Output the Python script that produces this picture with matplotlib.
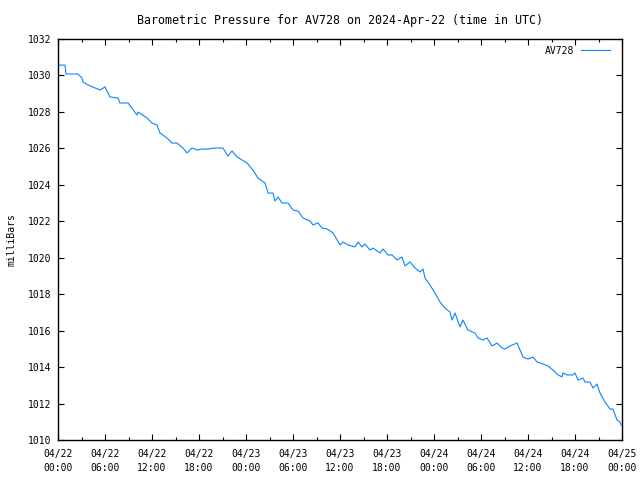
import matplotlib
matplotlib.use("Agg")
import matplotlib.pyplot as plt
from matplotlib.ticker import MultipleLocator, FixedLocator

# hours since 2024-04-22 00:00 UTC
hours = [0.00, 0.89, 1.02, 2.55, 3.06, 3.19, 3.83, 5.36, 6.00, 6.64, 7.66, 7.91, 8.94,
         10.09, 10.21, 11.36, 12.00, 12.64, 13.02, 13.91, 14.55, 15.19, 15.96, 16.47,
         17.11, 17.74, 18.38, 19.02, 20.04, 21.06, 21.70, 22.21, 22.85, 24.13, 24.89,
         25.53, 26.43, 26.81, 27.45, 27.70, 28.09, 28.60, 29.36, 30.00, 30.64, 31.28,
         32.17, 32.55, 33.19, 33.70, 34.34, 35.11, 36.00, 36.38, 37.02, 37.91, 38.30,
         38.81, 39.19, 39.83, 40.21, 41.11, 41.49, 42.13, 42.64, 43.28, 43.91, 44.30,
         44.94, 45.57, 46.21, 46.60, 46.85, 47.49, 48.13, 48.77, 49.40, 50.04, 50.30,
         50.68, 51.32, 51.70, 52.34, 53.23, 53.62, 54.26, 54.77, 55.40, 56.04, 56.68,
         57.06, 57.70, 58.60, 58.98, 59.36, 60.00, 60.64, 61.15, 61.91, 62.55, 63.19,
         63.83, 64.34, 64.47, 64.98, 65.74, 66.00, 66.38, 67.02, 67.28, 67.91, 68.30,
         68.81, 69.19, 69.83, 70.47, 70.85, 71.36, 71.74, 71.87]
pressure = [1030.57, 1030.57, 1030.08, 1030.08, 1029.86, 1029.64, 1029.48, 1029.20, 1029.37,
            1028.82, 1028.76, 1028.49, 1028.49, 1027.83, 1027.99, 1027.67, 1027.39, 1027.28,
            1026.84, 1026.57, 1026.29, 1026.29, 1026.02, 1025.75, 1026.02, 1025.91, 1025.96,
            1025.96, 1026.02, 1026.02, 1025.58, 1025.86, 1025.53, 1025.20, 1024.81, 1024.37,
            1024.10, 1023.55, 1023.55, 1023.11, 1023.33, 1023.00, 1023.00, 1022.62, 1022.56,
            1022.18, 1022.01, 1021.80, 1021.91, 1021.63, 1021.58, 1021.36, 1020.70, 1020.86,
            1020.70, 1020.59, 1020.86, 1020.59, 1020.75, 1020.42, 1020.53, 1020.26, 1020.48,
            1020.15, 1020.15, 1019.88, 1020.04, 1019.55, 1019.77, 1019.44, 1019.22, 1019.38,
            1018.89, 1018.50, 1018.06, 1017.57, 1017.24, 1017.02, 1016.58, 1016.97, 1016.20,
            1016.58, 1016.03, 1015.87, 1015.60, 1015.49, 1015.60, 1015.16, 1015.32, 1015.05,
            1014.99, 1015.16, 1015.32, 1014.94, 1014.55, 1014.44, 1014.55, 1014.28, 1014.17,
            1014.06, 1013.84, 1013.57, 1013.46, 1013.68, 1013.57, 1013.57, 1013.68, 1013.29,
            1013.40, 1013.18, 1013.18, 1012.85, 1013.07, 1012.58, 1012.08, 1011.70, 1011.70,
            1011.10, 1010.99, 1010.82]

xtick_hours = [0, 6, 12, 18, 24, 30, 36, 42, 48, 54, 60, 66, 72]
xtick_labels = ["04/22\n00:00", "04/22\n06:00", "04/22\n12:00", "04/22\n18:00",
                "04/23\n00:00", "04/23\n06:00", "04/23\n12:00", "04/23\n18:00",
                "04/24\n00:00", "04/24\n06:00", "04/24\n12:00", "04/24\n18:00",
                "04/25\n00:00"]
yticks = [1010, 1012, 1014, 1016, 1018, 1020, 1022, 1024, 1026, 1028, 1030, 1032]

plt.rcParams['font.family'] = ['DejaVu Sans Mono']
plt.rcParams['font.size'] = 7

fig = plt.figure(figsize=(6.4, 4.8), dpi=100)
ax = fig.add_axes([58/640, 40/480, 564/640, 401/480])
ax.plot(hours, pressure, color='#0a84ff', lw=0.8, label='AV728')
ax.set_xlim(0, 72)
ax.set_ylim(1010, 1032)
ax.xaxis.set_major_locator(FixedLocator(xtick_hours))
ax.set_xticklabels(xtick_labels, linespacing=1.45)
ax.xaxis.set_minor_locator(MultipleLocator(3))
ax.set_yticks(yticks)
ax.set_yticklabels([str(v) for v in yticks])
ax.tick_params(which='both', direction='in', top=True, right=True, color='black', width=0.8)
ax.tick_params(which='major', length=4.5)
ax.tick_params(which='minor', length=2.5)
ax.tick_params(axis='x', pad=6.5)
ax.tick_params(axis='y', pad=5)
for s in ax.spines.values():
    s.set_linewidth(1.0)
ax.set_ylabel('milliBars', labelpad=8)
ax.set_title('Barometric Pressure for AV728 on 2024-Apr-22 (time in UTC)', pad=11)
ax.legend(loc='upper right', bbox_to_anchor=(1 - 8/564, 1 - 3/401), frameon=False,
          markerfirst=False, handlelength=3.0, borderaxespad=0.0, handletextpad=0.7)
fig.savefig('out.png', dpi=100)
